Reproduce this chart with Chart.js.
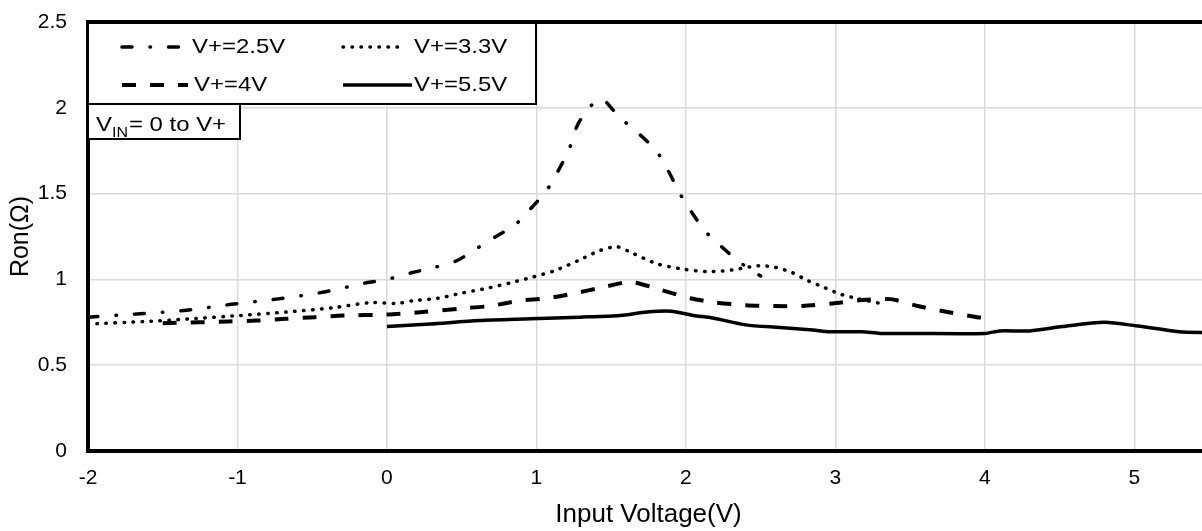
<!DOCTYPE html>
<html>
<head>
<meta charset="utf-8">
<script src="https://cdn.jsdelivr.net/npm/chart.js@4.4.1/dist/chart.umd.min.js"></script>
<style>
  html, body { margin: 0; padding: 0; background: #fff; overflow: hidden; }
  #wrap { width: 1210px; height: 531px; }
</style>
</head>
<body>
<div id="wrap"><canvas id="ronChart"></canvas></div>
<script>
// Ron vs input voltage, one curve per supply voltage

const xTicks = [-2, -1, 0, 1, 2, 3, 4, 5];
const yTicks = [0, 0.5, 1, 1.5, 2, 2.5];
const seriesLabels = ['V+=2.5V', 'V+=3.3V', 'V+=4V', 'V+=5.5V'];

// V+ = 2.5V
const v25X = [-2, -1.65, -1.34, -1.04, -0.74, -0.43, -0.14, 0, 0.17, 0.32, 0.47, 0.6, 0.73, 0.86, 0.97, 1.07,
              1.15, 1.22, 1.27, 1.35, 1.44, 1.51, 1.59, 1.71, 1.81, 1.89, 1.96, 2.04, 2.13, 2.24, 2.36, 2.5];
const v25Y = [0.78, 0.8, 0.82, 0.855, 0.885, 0.925, 0.98, 1.0, 1.04, 1.07, 1.11, 1.18, 1.25, 1.32, 1.42, 1.52,
              1.64, 1.76, 1.89, 2.0, 2.05, 1.99, 1.92, 1.83, 1.74, 1.62, 1.5, 1.39, 1.28, 1.19, 1.1, 1.02];

// V+ = 3.3V
const v33X = [-2, -1.61, -1.32, -0.98, -0.67, -0.36, -0.11, 0.07, 0.17, 0.34, 0.5, 0.68, 0.85, 0.96, 1.12, 1.28,
              1.43, 1.54, 1.65, 1.81, 1.98, 2.15, 2.31, 2.49, 2.6, 2.71, 2.81, 2.92, 3.03, 3.14, 3.3];
const v33Y = [0.74, 0.755, 0.77, 0.79, 0.81, 0.835, 0.865, 0.86, 0.875, 0.89, 0.92, 0.95, 0.985, 1.01, 1.05, 1.11,
              1.17, 1.19, 1.15, 1.09, 1.06, 1.045, 1.055, 1.08, 1.07, 1.04, 0.995, 0.955, 0.915, 0.89, 0.86];

// V+ = 4V
const v4X = [-1.5, -1.26, -1.06, -0.87, -0.68, -0.48, -0.29, 0, 0.24, 0.49, 0.69, 0.88, 1.07, 1.26, 1.45, 1.63,
             1.83, 2.03, 2.2, 2.4, 2.59, 2.78, 2.98, 3.18, 3.37, 3.55, 3.75, 3.95, 4];
const v4Y = [0.745, 0.75, 0.755, 0.76, 0.77, 0.78, 0.79, 0.795, 0.81, 0.83, 0.845, 0.875, 0.89, 0.92, 0.955, 0.985,
             0.94, 0.89, 0.865, 0.85, 0.845, 0.845, 0.86, 0.88, 0.885, 0.845, 0.81, 0.78, 0.775];

// V+ = 5.5V
const v55X = [0, 0.29, 0.62, 0.96, 1.29, 1.56, 1.74, 1.9, 2.05, 2.18, 2.4, 2.63, 2.85, 2.96, 3.18, 3.3, 3.52,
              4.0, 4.1, 4.3, 4.52, 4.8, 5.01, 5.3, 5.5];
const v55Y = [0.725, 0.74, 0.76, 0.77, 0.78, 0.79, 0.81, 0.815, 0.79, 0.775, 0.735, 0.72, 0.705, 0.695, 0.695,
              0.685, 0.685, 0.685, 0.7, 0.7, 0.725, 0.75, 0.73, 0.695, 0.69];

const FONT = "'Liberation Sans', Arial, sans-serif";
const TEXT_STRETCH = 1.14; // source text is a bit wider than Arial

function toPoints(xs, ys) {
    return xs.map((x, i) => ({ x: x, y: ys[i] }));
}

function makeSeries(label, xs, ys, dash, width, cap) {
    return {
        label: label,
        data: toPoints(xs, ys),
        borderColor: '#000',
        borderWidth: width,
        borderDash: dash,
        borderCapStyle: cap,
        pointRadius: 0,
        tension: 0.25,
        fill: false
    };
}

// draws text widened horizontally, returns the drawn width
function wideText(ctx, str, x, y) {
    ctx.save();
    ctx.translate(x, y);
    ctx.scale(TEXT_STRETCH, 1);
    ctx.fillText(str, 0, 0);
    ctx.restore();
    return ctx.measureText(str).width * TEXT_STRETCH;
}

// legend + VIN note, drawn by hand so the dash patterns show
const legendBox = {
    id: 'legendBox',
    afterDraw(chart) {
        const ctx = chart.ctx;
        const sets = chart.data.datasets;
        ctx.save();

        ctx.fillStyle = '#fff';
        ctx.fillRect(88, 22, 448, 82);
        ctx.fillRect(88, 104, 152, 35);
        ctx.strokeStyle = '#000';
        ctx.lineWidth = 2;
        ctx.strokeRect(88, 22, 448, 82);
        ctx.strokeRect(88, 104, 152, 35);

        const items = [
            { ds: 0, x0: 122, x1: 180, tx: 192, y: 47 },
            { ds: 1, x0: 343, x1: 405, tx: 414, y: 47 },
            { ds: 2, x0: 122, x1: 188, tx: 194, y: 85 },
            { ds: 3, x0: 343, x1: 412, tx: 414, y: 85 }
        ];
        items.forEach(it => {
            const d = sets[it.ds];
            ctx.beginPath();
            ctx.setLineDash(d.borderDash || []);
            ctx.lineCap = d.borderCapStyle || 'butt';
            ctx.lineWidth = d.borderWidth;
            ctx.moveTo(it.x0, it.y);
            ctx.lineTo(it.x1, it.y);
            ctx.stroke();
            ctx.setLineDash([]);
            ctx.fillStyle = '#000';
            ctx.font = '21px ' + FONT;
            ctx.textBaseline = 'middle';
            ctx.textAlign = 'left';
            wideText(ctx, d.label, it.tx, it.y);
        });

        // V_IN = 0 to V+
        ctx.fillStyle = '#000';
        ctx.textBaseline = 'alphabetic';
        ctx.font = '21px ' + FONT;
        let x = 96;
        x += wideText(ctx, 'V', x, 131);
        ctx.font = '14px ' + FONT;
        x += wideText(ctx, 'IN', x, 137);
        ctx.font = '21px ' + FONT;
        wideText(ctx, '= 0 to V+', x + 1, 131);

        // top frame line
        const a = chart.chartArea;
        ctx.beginPath();
        ctx.lineWidth = 4;
        ctx.lineCap = 'butt';
        ctx.moveTo(a.left - 2, a.top);
        ctx.lineTo(a.right, a.top);
        ctx.stroke();
        ctx.restore();
    }
};

function initRonChart() {
    const ctx = document.getElementById('ronChart').getContext('2d');
    new Chart(ctx, {
        type: 'line',
        data: {
            datasets: [
                makeSeries(seriesLabels[0], v25X, v25Y, [10, 18, 0.5, 18], 3.5, 'round'),
                makeSeries(seriesLabels[1], v33X, v33Y, [0.5, 8.5], 3.5, 'round'),
                makeSeries(seriesLabels[2], v4X, v4Y, [14, 14], 4, 'butt'),
                makeSeries(seriesLabels[3], v55X, v55Y, [], 3.5, 'butt')
            ]
        },
        options: {
            responsive: true,
            maintainAspectRatio: false,
            animation: false,
            layout: { padding: { top: 22, right: 1, left: 0, bottom: 0 } },
            plugins: {
                legend: { display: false },
                tooltip: { enabled: false }
            },
            scales: {
                x: {
                    type: 'linear',
                    min: -2,
                    max: 5.5,
                    afterBuildTicks: s => { s.ticks = xTicks.map(v => ({ value: v })); },
                    afterFit: s => { s.height = 80; s.paddingLeft = 0; s.paddingRight = 0; },
                    grid: { color: '#d9d9d9', lineWidth: 1.5, drawTicks: false },
                    border: { color: '#000', width: 4 },
                    ticks: { color: '#000', padding: 15, font: { family: FONT, size: 21 }, callback: v => String(v) },
                    title: {
                        display: true,
                        text: 'Input Voltage(V)',
                        color: '#000',
                        font: { family: FONT, size: 26 },
                        padding: { top: 0, bottom: 1 }
                    }
                },
                y: {
                    min: 0,
                    max: 2.5,
                    afterBuildTicks: s => { s.ticks = yTicks.map(v => ({ value: v })); },
                    afterFit: s => { s.width = 88; s.paddingTop = 0; s.paddingBottom = 0; },
                    grid: { color: '#d9d9d9', lineWidth: 1.5, drawTicks: false },
                    border: { color: '#000', width: 4 },
                    ticks: { color: '#000', padding: 21, font: { family: FONT, size: 21 }, callback: v => String(v) },
                    title: {
                        display: true,
                        text: 'Ron(Ω)',
                        color: '#000',
                        font: { family: FONT, size: 25 },
                        padding: { top: 6, bottom: 0 }
                    }
                }
            }
        },
        plugins: [legendBox]
    });
}

document.addEventListener('DOMContentLoaded', initRonChart);
</script>
</body>
</html>
